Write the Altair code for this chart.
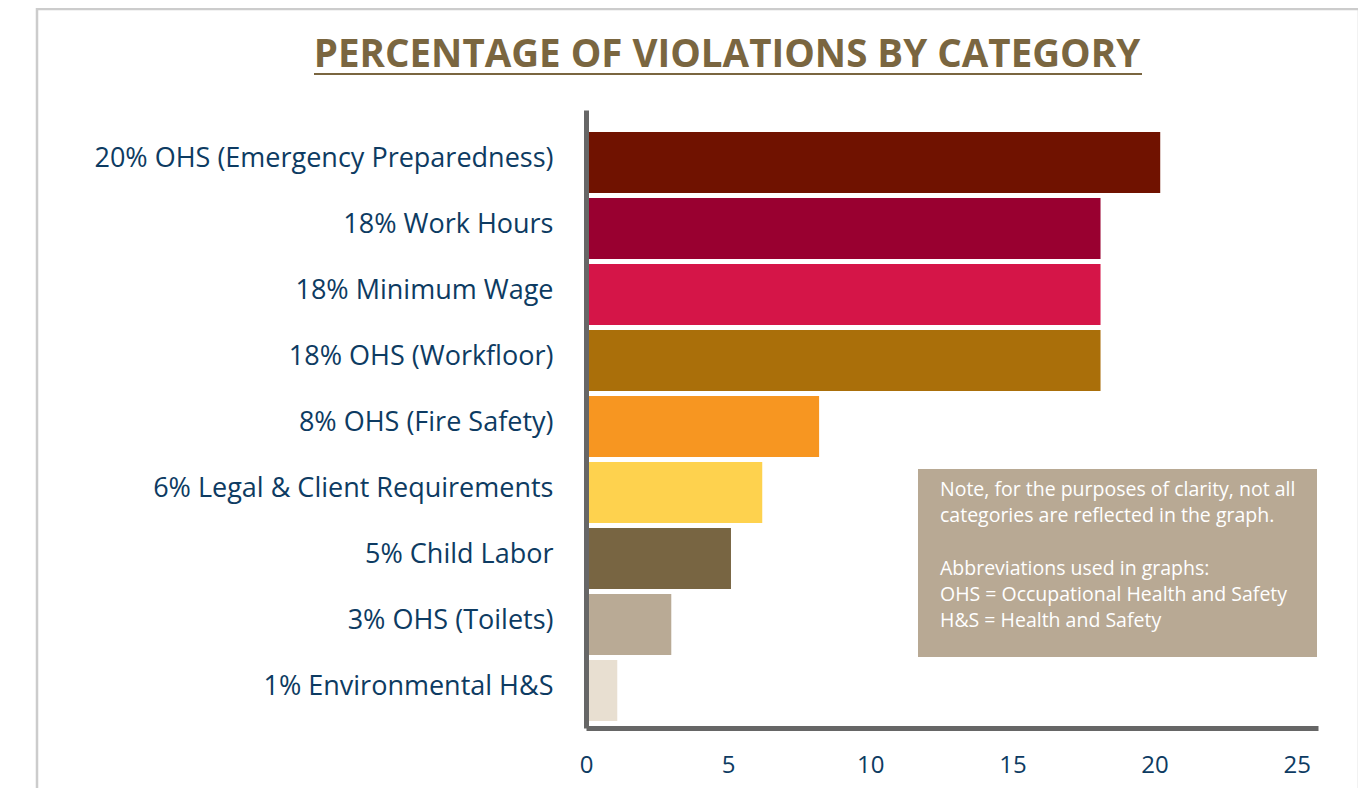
import altair as alt
import pandas as pd

categories = [
    "20% OHS (Emergency Preparedness)",
    "18% Work Hours",
    "18% Minimum Wage",
    "18% OHS (Workfloor)",
    "8% OHS (Fire Safety)",
    "6% Legal & Client Requirements",
    "5% Child Labor",
    "3% OHS (Toilets)",
    "1% Environmental H&S",
]
values = [20.2, 18.1, 18.1, 18.1, 8.2, 6.2, 5.1, 3.0, 1.1]
colors = ["#701200", "#990030", "#d51548", "#aa6f0a", "#f79621",
          "#fed24e", "#786542", "#b9aa95", "#e8dfd1"]
x_ticks = [0, 5, 10, 15, 20, 25]

title_text = "PERCENTAGE OF VIOLATIONS BY CATEGORY"
note_lines_1 = [
    "Note, for the purposes of clarity, not all",
    "categories are reflected in the graph.",
]
note_lines_2 = [
    "Abbreviations used in graphs:",
    "OHS = Occupational Health and Safety",
    "H&S = Health and Safety",
]

df = pd.DataFrame({"category": categories, "value": values})
one = pd.DataFrame({"k": [0]})

FONT = "Open Sans"
W, H = 732, 618

bars = alt.Chart(df).mark_bar().encode(
    x=alt.X("value:Q",
            scale=alt.Scale(domain=[0, 25.75], nice=False, zero=True),
            axis=alt.Axis(values=x_ticks, title=None, grid=False, ticks=False, tickSize=0,
                          domainColor="#666666", domainWidth=5, labelFont=FONT,
                          labelFontSize=24, labelColor="#0d3b62", labelPadding=25,
                          zindex=1, labelFlush=False)),
    y=alt.Y("category:N", sort=categories,
            scale=alt.Scale(paddingInner=0.076, paddingOuter=0.22, align=0.76),
            axis=alt.Axis(title=None, grid=False, ticks=False, tickSize=0,
                          domainColor="#666666", domainWidth=5, labelFont=FONT,
                          labelFontSize=27, labelColor="#0d3b62", labelPadding=33,
                          labelOffset=-4, labelLimit=600, zindex=1)),
    color=alt.Color("category:N", sort=categories,
                    scale=alt.Scale(domain=categories, range=colors), legend=None),
)

frame_color = "#cccccc"
frame_top = alt.Chart(one).mark_rule(color=frame_color, strokeWidth=2.5).encode(
    x=alt.value(-549), x2=alt.value(773), y=alt.value(-101))
frame_left = alt.Chart(one).mark_rule(color=frame_color, strokeWidth=2.5).encode(
    x=alt.value(-549), y=alt.value(-102), y2=alt.value(680))
frame_right = alt.Chart(one).mark_rule(color=frame_color, strokeWidth=2.5).encode(
    x=alt.value(773), y=alt.value(-102), y2=alt.value(680))

title = alt.Chart(one).mark_text(
    text=title_text, font=FONT, fontSize=38.5, fontWeight="bold", color="#7a6640",
    align="center", baseline="alphabetic").encode(
    x=alt.value(141), y=alt.value(-43))
underline = alt.Chart(one).mark_rule(color="#7a6640", strokeWidth=2).encode(
    x=alt.value(-272), x2=alt.value(556), y=alt.value(-36))

note_box = alt.Chart(one).mark_rect(color="#b8a994").encode(
    x=alt.value(332), x2=alt.value(731), y=alt.value(359), y2=alt.value(547))
note_text_1 = alt.Chart(one).mark_text(
    text=note_lines_1, font=FONT, fontSize=19.5, color="#ffffff", align="left",
    baseline="top", lineHeight=26).encode(
    x=alt.value(354), y=alt.value(371))
note_text_2 = alt.Chart(one).mark_text(
    text=note_lines_2, font=FONT, fontSize=19.5, color="#ffffff", align="left",
    baseline="top", lineHeight=26).encode(
    x=alt.value(354), y=alt.value(450))

chart = alt.layer(
    frame_top, frame_left, frame_right, title, underline, bars,
    note_box, note_text_1, note_text_2
).properties(
    width=W, height=H,
    background="#ffffff",
    autosize=alt.AutoSizeParams(type="none"),
    padding={"left": 578, "top": 102, "right": 40, "bottom": 60},
).configure_view(stroke="transparent", strokeWidth=0)

chart.save("out.html", embed_options={"renderer": "svg", "actions": False})
